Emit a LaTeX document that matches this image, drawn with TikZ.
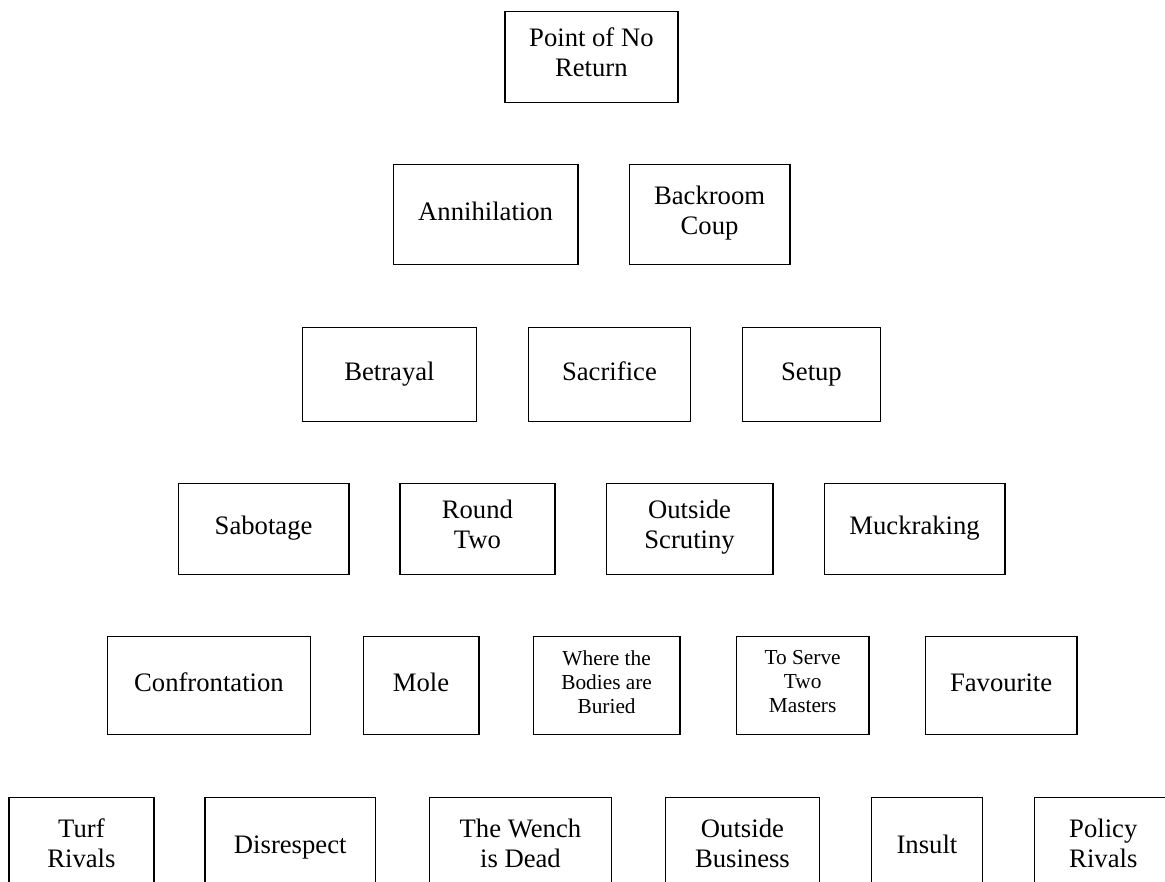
\documentclass[tikz,border=0pt]{standalone}
\usepackage{fontspec}
\setmainfont{Liberation Serif}
\begin{document}
\begin{tikzpicture}[x=0.75pt,y=-0.75pt]
                        \tikzset{Box/.style={%
                                shape=rectangle,%
                                draw=black,%
                                line width=0.9pt,%
                                inner sep=0pt,%
                                align=center,%
                                anchor=north west,%
                                font=\fontsize{20}{22.5}\selectfont,%
                                execute at begin node=\strut,%
                                execute at end node=\strut,%
                            },
                            Small/.style={font=\fontsize{16}{18}\selectfont},
                            boxsize/.style 2 args={minimum width=#1*0.75pt, minimum height=#2*0.75pt}}

                            \useasboundingbox (0,0) rectangle (1165,882);
                            \clip (0,0) rectangle (1165,882);

                            \node[Box, boxsize={173}{91.3}] (ret) at (504.3,10.7) {Point of No\\Return};

                            \node[Box, boxsize={184.6}{100.3}] (ann) at (392.7,163.7) {Annihilation};
                            \node[Box, boxsize={160.6}{100.3}] (coup) at (628.7,163.7) {Backroom\\Coup};

                            \node[Box, boxsize={174.3}{94.3}] (betr) at (301.7,326.7) {Betrayal};
                            \node[Box, boxsize={162.3}{94.3}] (sacr) at (527.7,326.7) {Sacrifice};
                            \node[Box, boxsize={138.3}{94.3}] (setup) at (741.7,326.7) {Setup};

                            \node[Box, boxsize={170.6}{91.3}] (sabo) at (177.7,482.7) {Sabotage};
                            \node[Box, boxsize={155}{91.3}] (round) at (399.3,482.7) {Round\\Two};
                            \node[Box, boxsize={166.6}{91.3}] (scrut) at (605.7,482.7) {Outside\\Scrutiny};
                            \node[Box, boxsize={180.6}{91.3}] (muck) at (823.7,482.7) {Muckraking};

                            \node[Box, boxsize={203.3}{98.3}] (conf) at (106.7,635.7) {Confrontation};
                            \node[Box, boxsize={115.6}{98.3}] (mole) at (362.7,635.7) {Mole};
                            \node[Box, Small, boxsize={146.6}{98.3}] (bodies) at (532.7,635.7) {Where the\\Bodies are\\Buried};
                            \node[Box, Small, boxsize={132.6}{98.3}] (serve) at (735.7,635.7) {To Serve\\Two\\Masters};
                            \node[Box, boxsize={151.6}{98.3}] (fav) at (924.7,635.7) {Favourite};

                            \node[Box, boxsize={145}{100}] (turf) at (8.3,796.7) {Turf\\Rivals};
                            \node[Box, boxsize={170.7}{100}] (disr) at (204.3,796.7) {Disrespect};
                            \node[Box, boxsize={182.3}{100}] (wench) at (428.7,796.7) {The Wench\\is Dead};
                            \node[Box, boxsize={154.3}{100}] (busi) at (664.7,796.7) {Outside\\Business};
                            \node[Box, boxsize={111.3}{100}] (insult) at (870.7,796.7) {Insult};
                            \node[Box, boxsize={138}{100}] (policy) at (1033.7,796.7) {Policy\\Rivals};
                    \end{tikzpicture}
\end{document}
